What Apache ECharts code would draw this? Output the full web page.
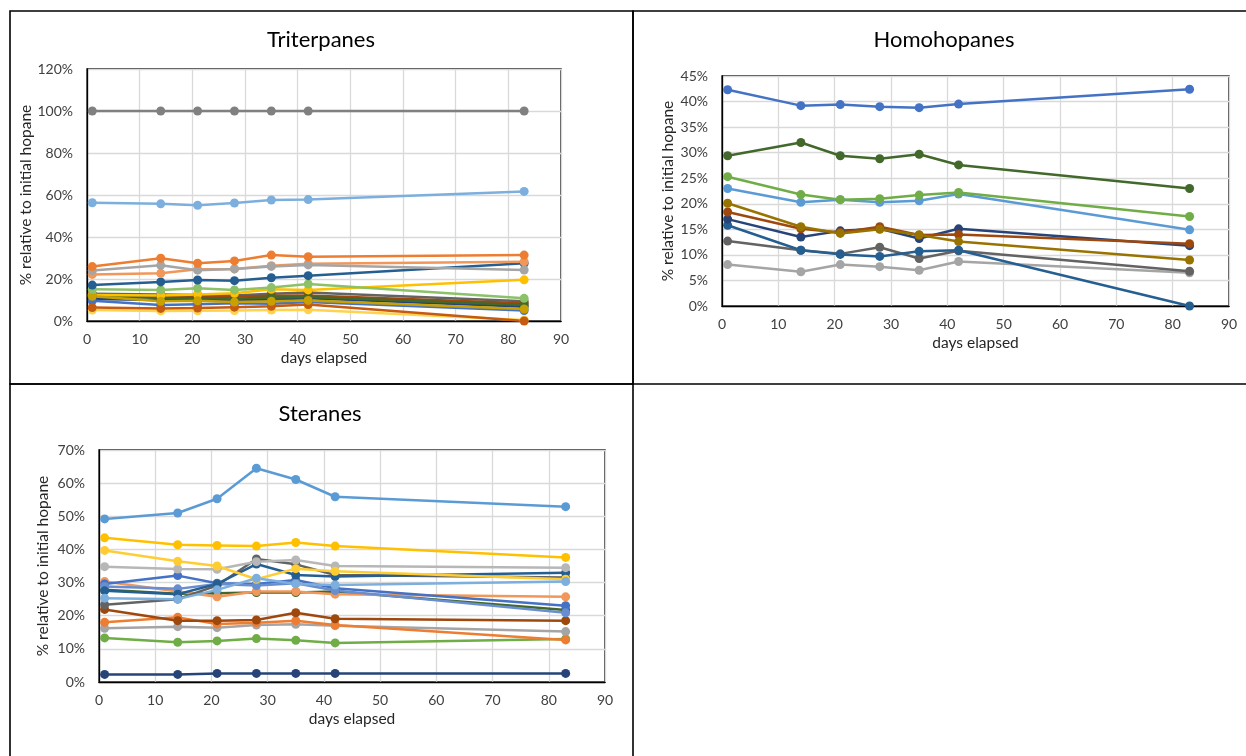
<!DOCTYPE html>
<html>
<head>
<meta charset="utf-8">
<script src="https://cdn.jsdelivr.net/npm/echarts@6/dist/echarts.min.js"></script>
<style>
  html, body { margin: 0; padding: 0; background: #fff; }
  #chart { width: 1246px; height: 756px; }
</style>
</head>
<body>
<div id="chart"></div>
<script>
// Sampling days (days elapsed)
const days = [1, 14, 21, 28, 35, 42, 83];

// Triterpanes, % relative to initial hopane (one row per compound)
const triterpaneValues = [
  [13.0, 12.6, 12.4, 12.2, 13.0, 13.6, 9.4],
  [10.5, 10.0, 10.2, 9.8, 10.2, 10.8, 6.8],
  [12.4, 11.6, 11.4, 11.6, 12.0, 12.2, 8.4],
  [12.0, 11.0, 11.0, 10.6, 11.2, 11.4, 7.6],
  [9.6, 7.6, 8.0, 8.4, 8.2, 9.0, 5.0],
  [5.2, 4.8, 4.9, 5.0, 5.2, 5.3, 0.5],
  [6.4, 6.0, 6.2, 6.6, 7.0, 7.8, 0.0],
  [12.4, 12.2, 12.6, 13.2, 15.1, 14.8, 19.6],
  [11.8, 9.4, 9.6, 9.0, 9.4, 9.8, 5.7],
  [15.1, 14.8, 15.6, 14.8, 15.9, 17.6, 10.8],
  [17.1, 18.6, 19.5, 19.2, 20.6, 21.6, 27.5],
  [22.2, 22.7, 24.6, 24.8, 26.3, 27.3, 28.2],
  [24.0, 26.5, 24.2, 24.8, 26.0, 26.7, 24.3],
  [25.9, 29.9, 27.5, 28.6, 31.4, 30.6, 31.4],
  [56.3, 55.8, 55.1, 56.2, 57.6, 57.8, 61.7],
  [100, 100, 100, 100, 100, 100, 100]
];
const triterpaneColors = [
  '#636363', '#264478', '#9E480E', '#43682B', '#4472C4', '#FFD34D', '#C55A11',
  '#FFC000', '#C9A000', '#8CC168', '#255E91', '#F1975A', '#A5A5A5', '#ED7D31',
  '#7CAFDD', '#808080'
];

// Homohopanes
const homohopaneValues = [
  [8.1, 6.7, 8.1, 7.7, 7.0, 8.7, 6.5],
  [12.7, 10.9, 10.2, 11.5, 9.3, 10.8, 6.8],
  [15.8, 10.9, 10.1, 9.7, 10.7, 10.9, 0.0],
  [17.0, 13.5, 14.7, 15.1, 13.2, 15.1, 11.8],
  [18.4, 15.1, 14.4, 15.5, 13.9, 14.0, 12.2],
  [20.1, 15.5, 14.2, 15.0, 13.9, 12.6, 9.0],
  [23.0, 20.3, 20.8, 20.3, 20.6, 21.9, 14.9],
  [25.3, 21.8, 20.8, 21.0, 21.7, 22.2, 17.5],
  [29.4, 32.0, 29.4, 28.8, 29.7, 27.6, 23.0],
  [42.3, 39.2, 39.4, 39.0, 38.8, 39.5, 42.4]
];
const homohopaneColors = [
  '#A5A5A5', '#636363', '#255E91', '#264478', '#9E480E', '#997300',
  '#5B9BD5', '#70AD47', '#43682B', '#4472C4'
];

// Steranes
const steraneValues = [
  [2.3, 2.3, 2.6, 2.6, 2.6, 2.6, 2.6],
  [13.3, 12.0, 12.4, 13.1, 12.6, 11.8, 13.0],
  [16.2, 16.7, 16.4, 17.2, 17.4, 17.0, 15.2],
  [18.0, 19.5, 17.5, 17.9, 18.5, 17.2, 12.7],
  [21.9, 18.5, 18.5, 18.7, 20.9, 19.1, 18.5],
  [27.8, 26.6, 26.8, 27.0, 27.0, 27.3, 21.7],
  [30.3, 27.3, 25.7, 27.3, 27.3, 26.5, 25.7],
  [29.6, 32.1, 29.8, 29.6, 30.8, 28.3, 23.0],
  [28.8, 28.1, 29.6, 29.1, 29.8, 27.6, 20.9],
  [23.3, 25.0, 29.1, 37.1, 35.5, 32.3, 31.5],
  [27.5, 26.5, 29.6, 35.6, 32.3, 31.8, 33.0],
  [34.8, 34.1, 34.0, 36.3, 36.8, 35.0, 34.5],
  [39.7, 36.4, 35.0, 31.0, 34.2, 33.4, 31.0],
  [25.3, 25.0, 27.8, 31.3, 29.6, 29.3, 30.3],
  [43.5, 41.4, 41.2, 41.0, 42.1, 41.0, 37.6],
  [49.2, 51.0, 55.3, 64.5, 61.1, 55.9, 52.9]
];
const steraneColors = [
  '#264478', '#70AD47', '#A5A5A5', '#ED7D31', '#9E480E', '#43682B',
  '#F1975A', '#4472C4', '#698ED0', '#636363', '#255E91', '#B7B7B7',
  '#FFCD33', '#7CAFDD', '#FFC000', '#5B9BD5'
];

const panelTitles = ['Triterpanes', 'Homohopanes', 'Steranes'];
const xTitle = 'days elapsed';
const yTitle = '% relative to initial hopane';

const FONT = 'Lato, "Open Sans", sans-serif';
const TICK = '#404040';

function xAxisFor(idx) {
  return {
    type: 'value', gridIndex: idx, min: 0, max: 90, interval: 10,
    name: xTitle, nameLocation: 'middle', nameGap: 29,
    nameTextStyle: { fontFamily: FONT, fontSize: 15.5, color: '#262626' },
    axisLine: { show: true, lineStyle: { color: '#000', width: 1.3 } },
    axisTick: { show: false },
    axisLabel: { fontFamily: FONT, fontSize: 14, color: TICK, margin: 11 },
    splitLine: { show: true, lineStyle: { color: '#D9D9D9', width: 1.3 } }
  };
}
function yAxisFor(idx, max, step, gap) {
  return {
    type: 'value', gridIndex: idx, min: 0, max: max, interval: step,
    name: yTitle, nameLocation: 'middle', nameGap: gap, nameRotate: 90,
    nameTextStyle: { fontFamily: FONT, fontSize: 15.5, color: '#262626' },
    axisLine: { show: true, lineStyle: { color: '#000', width: 1.3 } },
    axisTick: { show: false },
    axisLabel: { fontFamily: FONT, fontSize: 14, color: TICK, margin: 14, formatter: '{value}%' },
    splitLine: { show: true, lineStyle: { color: '#D9D9D9', width: 1.3 } }
  };
}
function seriesFor(rows, colors, idx) {
  return rows.map((vals, i) => ({
    type: 'line', xAxisIndex: idx, yAxisIndex: idx,
    data: days.map((d, k) => [d, vals[k]]),
    symbol: 'circle', symbolSize: 9, showSymbol: true,
    lineStyle: { width: 2.5, color: colors[i] },
    itemStyle: { color: colors[i] },
    emphasis: { disabled: true },
    animation: false, clip: false
  }));
}

const frame = { stroke: '#000', lineWidth: 1.6, fill: 'transparent' };
const titleStyle = (t, x, y) => ({
  type: 'text', x: x, y: y,
  style: { text: t, font: '22px ' + FONT, fill: '#000', align: 'center', verticalAlign: 'middle' }
});

const option = {
  backgroundColor: '#fff',
  animation: false,
  grid: [
    { left: 87, top: 69, width: 474, height: 252, show: true, borderColor: '#000', borderWidth: 1.3 },
    { left: 722, top: 76, width: 507, height: 230, show: true, borderColor: '#000', borderWidth: 1.3 },
    { left: 99, top: 450, width: 506, height: 232, show: true, borderColor: '#000', borderWidth: 1.3 }
  ],
  xAxis: [xAxisFor(0), xAxisFor(1), xAxisFor(2)],
  yAxis: [yAxisFor(0, 120, 20, 53), yAxisFor(1, 45, 5, 46), yAxisFor(2, 70, 10, 48)],
  series: [].concat(
    seriesFor(triterpaneValues, triterpaneColors, 0),
    seriesFor(homohopaneValues, homohopaneColors, 1),
    seriesFor(steraneValues, steraneColors, 2)
  ),
  graphic: [
    { type: 'rect', shape: { x: 10, y: 11, width: 623, height: 373 }, style: frame, silent: true },
    { type: 'rect', shape: { x: 633, y: 11, width: 620, height: 373 }, style: frame, silent: true },
    { type: 'rect', shape: { x: 10, y: 384, width: 623, height: 380 }, style: frame, silent: true },
    titleStyle(panelTitles[0], 321, 40),
    titleStyle(panelTitles[1], 944, 40),
    titleStyle(panelTitles[2], 320, 414)
  ]
};

const chart = echarts.init(document.getElementById('chart'));
chart.setOption(option);
</script>
</body>
</html>
